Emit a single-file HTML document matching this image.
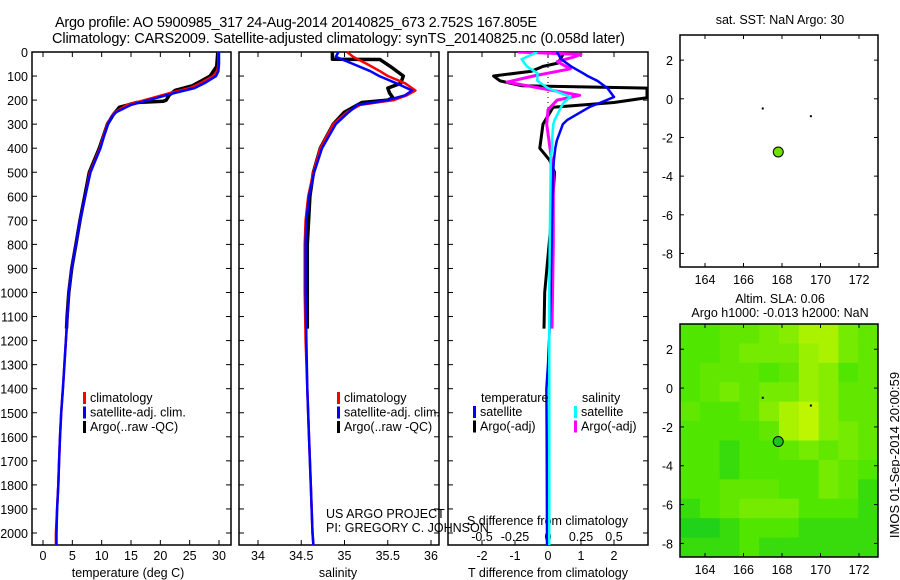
<!DOCTYPE html>
<html><head><meta charset="utf-8"><style>
html,body{margin:0;padding:0;background:#fff}
svg{display:block;font-family:"Liberation Sans",sans-serif}
</style></head><body>
<svg id="chart" width="900" height="580" viewBox="0 0 900 580" xmlns="http://www.w3.org/2000/svg">
<text x="55" y="27" font-size="14.5" textLength="482">Argo profile: AO 5900985_317 24-Aug-2014 20140825_673 2.752S 167.805E</text>
<text x="52" y="43" font-size="14.5" textLength="573">Climatology: CARS2009. Satellite-adjusted climatology: synTS_20140825.nc (0.058d later)</text>
<g id="g"></g>
<text transform="translate(899,455) rotate(-90)" text-anchor="middle" font-size="13">IMOS 01-Sep-2014 20:00:59</text>
</svg>
<script>
// ---- data ----
const depthT = [0,50,80,100,130,150,170,190,220,250,270,300,350,400,500,600,700,800,900,1000,1200,1400,1500,1600,1700,1800,1900,2000,2050];
const climT = [29.9,29.9,29.7,29.0,26.8,25.0,21.7,18.8,14.3,12.3,11.6,11.0,10.3,9.7,8.0,7.2,6.3,5.6,4.9,4.4,3.9,3.4,3.1,2.9,2.75,2.6,2.4,2.2,2.2];
const satT  = [30.0,30.0,29.9,29.5,27.5,25.8,22.5,19.5,15.0,12.5,11.7,11.1,10.4,9.8,8.1,7.2,6.3,5.6,4.9,4.4,3.9,3.4,3.1,2.9,2.75,2.6,2.4,2.3,2.3];
const depthA = [0,60,100,120,140,160,180,200,205,210,230,260,300,400,500,600,700,800,900,1000,1100,1150];
const argoT  = [29.8,29.6,28.5,27.0,25.5,22.5,21.5,21.0,20.5,16.0,13.0,12.0,11.0,9.6,7.9,7.1,6.3,5.6,4.9,4.4,4.1,4.0];
const depthS = [0,20,50,80,100,130,160,180,200,220,250,300,400,500,600,700,800,1000,1200,1400,1600,1800,2000,2050];
const climS = [35.03,35.1,35.26,35.41,35.5,35.7,35.82,35.72,35.57,35.18,35.03,34.87,34.72,34.64,34.58,34.55,34.54,34.54,34.55,34.57,34.59,34.61,34.63,34.64];
const satS  = [34.93,34.9,35.1,35.3,35.4,35.6,35.78,35.7,35.5,35.15,35.05,34.9,34.74,34.65,34.59,34.56,34.55,34.55,34.56,34.57,34.59,34.61,34.63,34.64];
const depthAS = [0,30,31,60,100,130,150,170,190,200,210,250,300,400,500,600,800,1000,1150];
const argoS = [34.86,34.86,35.41,35.53,35.68,35.65,35.5,35.52,35.56,35.5,35.2,35.0,34.87,34.72,34.64,34.6,34.57,34.57,34.57];
const depthD = [0,30,60,88,100,120,150,187,210,228,283,300,367,400,450,505,700,1000,1150,1300,1400,1600,2000,2050];
const dTsat = [0.27,0.4,0.7,1.06,1.2,1.5,1.8,2.0,1.6,1.27,0.58,0.45,0.27,0.22,0.18,0.15,0.12,0.08,0.05,0.0,-0.05,-0.04,-0.03,-0.03];
const dSsat = [-0.08,-0.2,-0.16,-0.08,-0.08,-0.08,0.0,0.17,0.12,0.1,0.05,0.04,0.03,0.03,0.02,0.02,0.015,0.01,0.01,0.01,0.01,0.01,0.01,0.01];
const depthDA = [0,46,60,80,100,120,140,150,190,210,230,300,400,450,500,700,1000,1150];
const dTargo = [0.5,0.3,-0.15,-0.5,-1.65,-1.45,-0.8,3.0,3.0,2.0,0.15,-0.15,-0.25,0.05,0.2,0.1,-0.1,-0.12];
const depthDS = [0,10,20,40,70,100,125,150,180,200,240,300,500,800,1150];
const dSargo = [-0.23,0.25,0.2,0.07,0.17,-0.11,-0.31,-0.06,0.24,0.07,0.0,-0.01,0.04,0.04,0.03];
const floatLon = [167.805];
const floatLat = [-2.752];
const nearLon = [167.0,169.5];
const nearLat = [-0.5,-0.9];
const slaGrid = [
 [0.3,0.3,0.4,0.4,0.5,0.6,0.8,0.8,0.5,0.4],
 [0.3,0.3,0.4,0.5,0.5,0.5,0.7,0.8,0.5,0.4],
 [0.3,0.4,0.4,0.4,0.3,0.4,0.7,0.6,0.3,0.4],
 [0.3,0.4,0.5,0.4,0.5,0.5,0.7,0.6,0.4,0.4],
 [0.4,0.3,0.3,0.4,0.6,0.8,0.9,0.6,0.4,0.4],
 [0.3,0.3,0.3,0.3,0.4,0.8,0.9,0.6,0.5,0.4],
 [0.3,0.3,0.2,0.3,0.3,0.4,0.5,0.4,0.5,0.4],
 [0.3,0.3,0.2,0.3,0.3,0.3,0.3,0.5,0.4,0.3],
 [0.3,0.3,0.4,0.4,0.4,0.3,0.3,0.5,0.4,0.2],
 [0.2,0.3,0.4,0.5,0.5,0.5,0.3,0.3,0.3,0.2],
 [0.1,0.1,0.2,0.3,0.3,0.3,0.2,0.2,0.2,0.2],
 [0.2,0.2,0.2,0.3,0.2,0.2,0.2,0.2,0.2,0.2]];
const depthTicks = [0,100,200,300,400,500,600,700,800,900,1000,1100,1200,1300,1400,1500,1600,1700,1800,1900,2000];
const tTicks = [0,5,10,15,20,25,30];
const sTicks = [34,34.5,35,35.5,36];
const dTTicks = [-2,-1,0,1,2];
const dSTicks = [-0.5,-0.25,0,0.25,0.5];
const latTicks = [2,0,-2,-4,-6,-8];
const lonTicks = [164,166,168,170,172];

// ---- helpers ----
const NS="http://www.w3.org/2000/svg";
const G=document.getElementById('g');
function mk(tag,attrs,parent){const e=document.createElementNS(NS,tag);for(const k in attrs)e.setAttribute(k,attrs[k]);(parent||G).appendChild(e);return e;}
function txt(s,x,y,anchor,size,name){const e=mk('text',{x:x,y:y,'text-anchor':anchor||'start','font-size':size||12.5});e.textContent=s;


return e;}
const PT=52, PB=545;
const yD=d=>PT+d*0.2405;
function lin(d0,d1,p0,p1){return v=>p0+(v-d0)*(p1-p0)/(d1-d0);}
const xT=lin(0,30,43,219), xS=lin(34,36,258,431), xdT=lin(-2,2,482,614), xdS=lin(-0.5,0.5,482,614);

function panel(x0,x1,name){
  const r=mk('rect',{x:x0,y:PT,width:x1-x0,height:PB-PT,fill:'none',stroke:'#000','stroke-width':1.5});
  
  
  depthTicks.forEach(d=>{mk('line',{x1:x0,x2:x0+5,y1:yD(d),y2:yD(d),stroke:'#000'});mk('line',{x1:x1-5,x2:x1,y1:yD(d),y2:yD(d),stroke:'#000'});});
}
function xticks(ticks,f,labels,ly,name){
  ticks.forEach(t=>{const x=f(t);mk('line',{x1:x,x2:x,y1:PT,y2:PT+5,stroke:'#000'});mk('line',{x1:x,x2:x,y1:PB-5,y2:PB,stroke:'#000'});
    if(labels)txt(String(t),x,ly,'middle',12.5,name);});
}
function line(ds,vs,f,color,w,name,dash){
  const pts=ds.map((d,i)=>f(vs[i]).toFixed(1)+','+yD(d).toFixed(1)).join(' ');
  const p=mk('polyline',{points:pts,fill:'none',stroke:color,'stroke-width':w,'stroke-linejoin':'round'});
  if(dash)p.setAttribute('stroke-dasharray',dash);
  
  
  return p;
}
function legend(x,y,items){
  items.forEach((it,i)=>{mk('rect',{x:x,y:y+i*14.5-10,width:3,height:12,fill:it[0]});txt(it[1],x+7,y+i*14.5,'start',12.5,'legend-entry');});
}

// ---- panel 1: temperature ----
panel(32,231,'temperature-panel');
depthTicks.forEach(d=>txt(String(d),28,yD(d)+5,'end',12.5,'depth-tick-label'));
xticks(tTicks,xT,true,560,'temperature-tick-label');
txt('temperature (deg C)',128,577,'middle',12.5,'temperature-axis-title');
line(depthA,argoT,xT,'#000',3.5,'argo-temperature');
line(depthT,climT,xT,'#f00',2.5,'climatology-temperature');
line(depthT,satT,xT,'#00f',2.5,'satellite-temperature');
legend(83,402,[['#f00','climatology'],['#00f','satellite-adj. clim.'],['#000','Argo(..raw -QC)']]);

// ---- panel 2: salinity ----
panel(239,439,'salinity-panel');
xticks(sTicks,xS,true,560,'salinity-tick-label');
txt('salinity',338,577,'middle',12.5,'salinity-axis-title');
line(depthAS,argoS,xS,'#000',3.5,'argo-salinity');
line(depthS,climS,xS,'#f00',2.5,'climatology-salinity');
line(depthS,satS,xS,'#00f',2.5,'satellite-salinity');
legend(337,402,[['#f00','climatology'],['#00f','satellite-adj. clim.'],['#000','Argo(..raw -QC)']]);
txt('US ARGO PROJECT',326,518,'start',12.5,'project-label');
txt('PI: GREGORY C. JOHNSON',326,532,'start',12.5,'pi-label');

// ---- panel 3: differences ----
panel(448,648,'difference-panel');
xticks(dTTicks,xdT,true,560,'t-diff-tick-label');
dSTicks.forEach(t=>txt(String(t),xdS(t),541,'middle',12.5,'s-diff-tick-label'));
txt('S difference from climatology',467,525,'start',12.5,'s-diff-axis-title');
txt('T difference from climatology',548,577,'middle',12.5,'t-diff-axis-title');
mk('line',{x1:548,x2:548,y1:PT,y2:yD(260),stroke:'#000','stroke-dasharray':'1,4'});
const cp=mk('clipPath',{id:'cp3'});mk('rect',{x:448,y:PT,width:200,height:PB-PT},cp);
const g3=mk('g',{'clip-path':'url(#cp3)'});
[line(depthDA,dTargo,xdT,'#000',3,'argo-t-diff'),
 line(depthDS,dSargo,xdS,'#f0f',3,'argo-s-diff'),
 line(depthD,dTsat,xdT,'#00f',2.5,'satellite-t-diff'),
 line(depthD,dSsat,xdS,'#0ff',2.5,'satellite-s-diff')].forEach(p=>g3.appendChild(p));
txt('temperature',481,402,'start',12.5,'legend-temperature-header');
txt('salinity',582,402,'start',12.5,'legend-salinity-header');
legend(473,416,[['#00f','satellite'],['#000','Argo(-adj)']]);
legend(574,416,[['#0ff','satellite'],['#f0f','Argo(-adj)']]);

// ---- maps ----
function map(top,bottom,name,heat){
  const L=680,R=878;
  const xL=lin(164,172,705,859), yL=lin(0,-8,top+(bottom-top)*(3.3/12),top+(bottom-top)*(11.3/12));
  if(heat){
    const cols=slaGrid[0].length, rows=slaGrid.length;
    const cw=(R-L)/cols, ch=(bottom-top)/rows;
    slaGrid.forEach((row,j)=>row.forEach((v,i)=>{
      let r,gg,b;
      if(v<0.3){let t=v/0.3;r=10+70*t;gg=200+30*t;b=40-40*t;}
      else{let t=(v-0.3)/0.6;if(t>1)t=1;r=80+110*t;gg=230+15*t;b=0;}
      const c=mk('rect',{x:L+i*cw,y:top+j*ch,width:cw+0.5,height:ch+0.5,fill:`rgb(${r|0},${gg|0},${b|0})`});
      
      
    }));
  }
  const fr=mk('rect',{x:L,y:top,width:R-L,height:bottom-top,fill:'none',stroke:'#000','stroke-width':1.5});
  
  
  latTicks.forEach(t=>{const y=yL(t);mk('line',{x1:L,x2:L+4,y1:y,y2:y,stroke:'#000'});mk('line',{x1:R-4,x2:R,y1:y,y2:y,stroke:'#000'});txt(String(t),673,y+5,'end',12.5,'lat-tick-label');});
  lonTicks.forEach(t=>{const x=xL(t);mk('line',{x1:x,x2:x,y1:top,y2:top+4,stroke:'#000'});mk('line',{x1:x,x2:x,y1:bottom-4,y2:bottom,stroke:'#000'});txt(String(t),x,bottom+17,'middle',12.5,'lon-tick-label');});
  nearLon.forEach((lo,i)=>{const d=mk('rect',{x:xL(lo)-1,y:yL(nearLat[i])-1,width:2,height:2,fill:'#000'});
    
    });
  floatLon.forEach((lo,i)=>{const c=mk('circle',{cx:xL(lo),cy:yL(floatLat[i]),r:5,fill:heat?'#20c020':'#70e000',stroke:'#000','stroke-width':1});
    
    });
}
txt('sat. SST: NaN Argo: 30',780,24,'middle',12.5,'sst-map-title');
map(35,267,'sst-map',false);
txt('Altim. SLA: 0.06',780,303,'middle',12.5,'sla-map-title-1');
txt('Argo h1000: -0.013 h2000: NaN',780,317,'middle',12.5,'sla-map-title-2');
map(324,557,'sla-map',true);
</script>
</body></html>
